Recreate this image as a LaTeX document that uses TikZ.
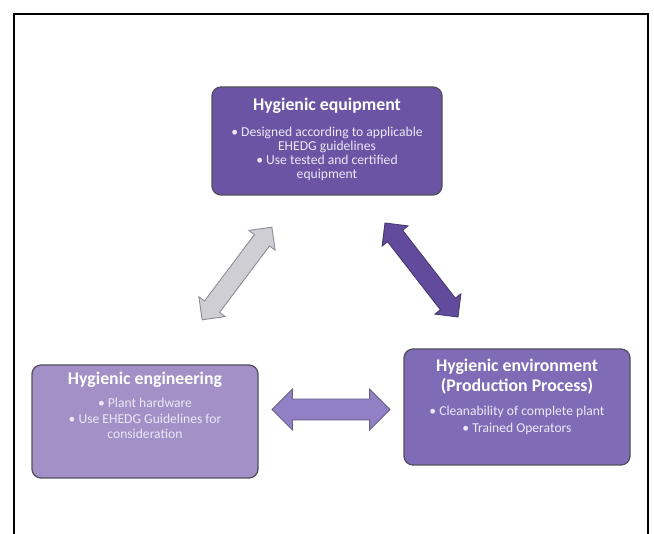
\documentclass[tikz,border=0pt]{standalone}
\usepackage{fontspec}
\setmainfont{Carlito}
\usetikzlibrary{shapes.arrows}

\definecolor{equipfill}{RGB}{108,84,164}
\definecolor{envfill}{RGB}{128,108,182}
\definecolor{engfill}{RGB}{162,144,198}
\definecolor{boxline}{RGB}{82,80,92}
\definecolor{bodytext}{RGB}{236,232,246}
\definecolor{greyfill}{RGB}{206,206,212}
\definecolor{greyline}{RGB}{140,140,150}
\definecolor{darkarrow}{RGB}{98,74,156}
\definecolor{darkarrowline}{RGB}{70,60,110}
\definecolor{midarrow}{RGB}{146,128,196}
\definecolor{midarrowline}{RGB}{104,96,136}

\newcommand{\panelhead}[1]{{\fontsize{17.8}{19}\selectfont\bfseries\color{white}#1}}

\tikzset{
  panel/.style={draw=boxline, line width=1.3pt, rounded corners=9pt, inner sep=0pt},
  paneltext/.style={anchor=north, align=center, text=bodytext, inner sep=0pt,
    font=\fontsize{13.6}{14}\selectfont},
  link/.style={double arrow, sloped, inner xsep=0pt, line width=0.9pt,
    double arrow head extend=7pt, double arrow tip angle=90},
}

\begin{document}
\begin{tikzpicture}[x=1pt, y=-1pt]
  \useasboundingbox (0,0) rectangle (654,534);
  % open-bottomed frame
  \draw[line width=1.4pt] (14,540) -- (14,14) -- (648,14) -- (648,540);

  % the three panels
  \node[panel, fill=equipfill, minimum width=230pt, minimum height=108pt] (equip) at (327,141) {};
  \node[panel, fill=engfill, minimum width=226pt, minimum height=113pt] (eng) at (145,421.5) {};
  \node[panel, fill=envfill, minimum width=226pt, minimum height=116pt] (env) at (517,407) {};

  \node[paneltext] (equiptext) at ([yshift=-11pt]equip.north) {%
    \panelhead{Hygienic equipment}\\[12pt]
    • Designed according to applicable\\ EHEDG guidelines\\
    • Use tested and certified\\ equipment};
  \node[paneltext] (engtext) at ([yshift=-7pt]eng.north) {%
    \panelhead{Hygienic engineering}\\[9pt]
    • Plant hardware\\[2pt]
    • Use EHEDG Guidelines for\\[1pt] consideration};
  \node[paneltext] (envtext) at ([yshift=-10pt]env.north) {%
    \panelhead{Hygienic environment}\\[3pt]
    \panelhead{(Production Process)}\\[10pt]
    • Cleanability of complete plant\\[3pt]
    • Trained Operators};

  % connecting double arrows
  \coordinate (g1) at (202,320);
  \coordinate (g2) at (272,227);
  \coordinate (p1) at (385,223);
  \coordinate (p2) at (458,317);
  \coordinate (h1) at (272,409.5);
  \coordinate (h2) at (390,409.5);
  \path (g1) -- node[link, fill=greyfill, draw=greyline, inner ysep=9pt,
    minimum height=116pt] (grey) {} (g2);
  \path (p1) -- node[link, fill=darkarrow, draw=darkarrowline, inner ysep=9pt,
    minimum height=119pt] (purple) {} (p2);
  \path (h1) -- node[link, fill=midarrow, draw=midarrowline, inner ysep=10pt,
    double arrow head extend=10pt, minimum height=118pt] (mid) {} (h2);
\end{tikzpicture}
\end{document}
